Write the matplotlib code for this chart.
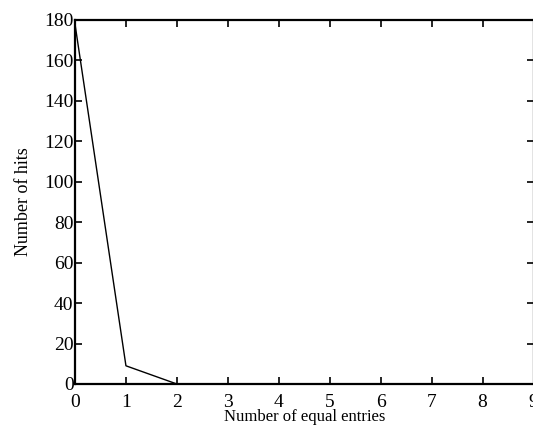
import matplotlib
matplotlib.use("Agg")
import matplotlib.pyplot as plt

# Datos
entries = [0, 1, 2, 3, 4, 5, 6, 7, 8, 9]
hits = [178, 9, 0, 0, 0, 0, 0, 0, 0, 0]
xticks = [0, 1, 2, 3, 4, 5, 6, 7, 8, 9]
yticks = [0, 20, 40, 60, 80, 100, 120, 140, 160, 180]

plt.rcParams['font.family'] = ['Liberation Serif', 'DejaVu Serif']

fig = plt.figure(figsize=(5.33, 4.32), dpi=100)
# el borde derecho queda en el limite de la imagen (recortada)
ax = fig.add_axes([75/533, 48/432, 458.5/533, 364/432])
ax.plot(entries, hits, 'k', lw=1.0)

ax.set_xlim(0, 9)
ax.set_ylim(0, 180)
ax.set_xticks(xticks)
ax.set_yticks(yticks)
ax.tick_params(direction='in', length=5, width=1.2, labelsize=14,
               top=True, right=True)
ax.tick_params(axis='x', pad=7)
ax.tick_params(axis='y', pad=1)
for s in ax.spines.values():
    s.set_linewidth(1.6)

ax.set_xlabel("Number of equal entries", fontsize=12, labelpad=-1)
ax.set_ylabel("Number of hits", fontsize=13, labelpad=9)

fig.savefig("out.png", dpi=100)
